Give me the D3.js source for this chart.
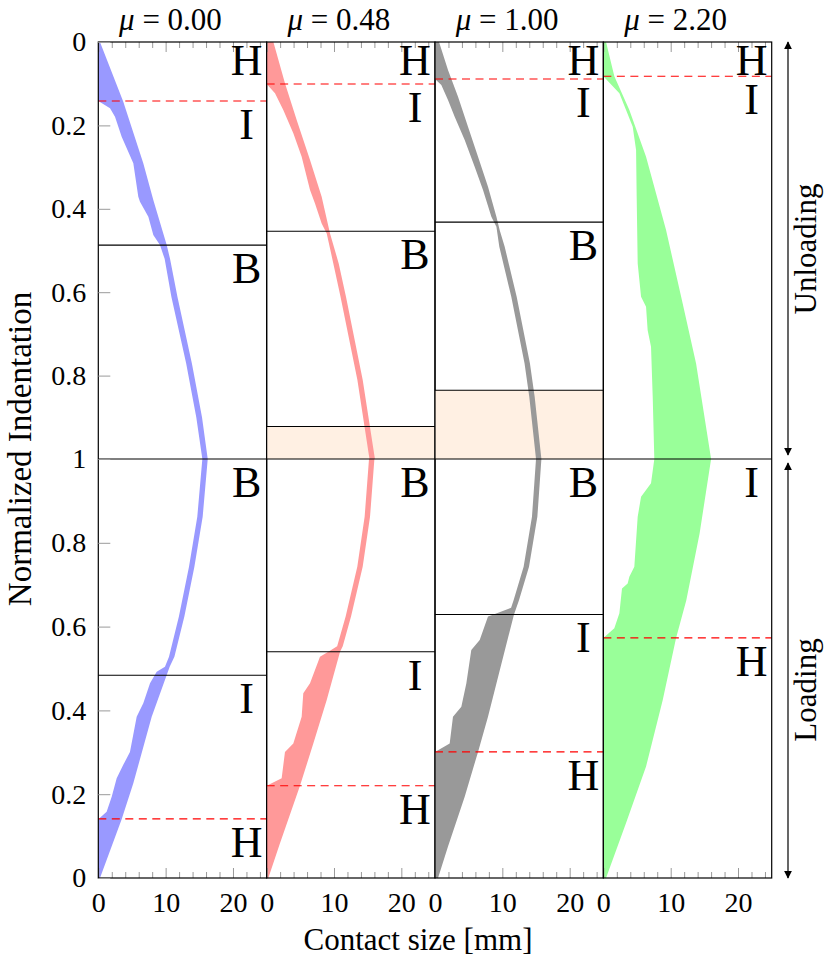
<!DOCTYPE html>
<html><head><meta charset="utf-8">
<script src="https://cdn.jsdelivr.net/npm/d3@7/dist/d3.min.js"></script>
<style>
body{margin:0;background:#fff}
svg{display:block}
</style>
</head><body>
<svg id="chart" width="831" height="969"></svg>
<script>
// ---------------- DATA ----------------
const muLabels = ["0.00", "0.48", "1.00", "2.20"];
const xMajorTicks = [0, 10, 20];
const xMinorTicks = [2, 4, 6, 8, 12, 14, 16, 18, 22, 24];
const yTickValues = [0, 0.2, 0.4, 0.6, 0.8, 1];
const yTickLabels = ["0", "0.2", "0.4", "0.6", "0.8", "1"];
const bandColors = ["#9999ff", "#ff9999", "#999999", "#99ff99"];

// region boundaries (normalized indentation)
const hUnload = [0.1415, 0.1007, 0.0887, 0.0823];   // dashed red, unloading
const bUnload = [0.487, 0.454, 0.432, null];        // solid black, unloading
const orangeStart = [null, 0.922, 0.835, null];     // shaded region, unloading
const hLoad = [0.141, 0.220, 0.301, 0.573];         // dashed red, loading
const iLoad = [0.484, 0.540, 0.629, null];          // solid black, loading
const unloadLabels = [["H", "I", "B"], ["H", "I", "B"], ["H", "I", "B"], ["H", "I"]];
const loadLabels = [["B", "I", "H"], ["B", "I", "H"], ["B", "I", "H"], ["I", "H"]];

// contact size band edges: [indentation, contact size mm]
const blueUnloadLeft = [[0,0],[0.1415,0],[0.159,1.74],[0.179,2.48],[0.227,3.47],[0.291,5.2],[0.371,5.94],[0.383,6.19],[0.419,7.43],[0.463,8.17],[0.487,9.16],[0.52,9.85],[0.611,10.85],[0.771,13.05],[0.9,14.55],[1,15.45]];
const blueUnloadRight = [[0,0.25],[0.143,3.71],[0.291,6.68],[0.379,8.17],[0.487,10.16],[0.52,10.65],[0.611,11.75],[0.771,13.9],[0.9,15.4],[1,16.25]];
const blueLoadLeft = [[0,0],[0.14,0],[0.158,1.24],[0.194,1.99],[0.238,2.73],[0.27,3.71],[0.301,4.7],[0.385,5.7],[0.417,6.68],[0.465,7.68],[0.492,8.67],[0.504,9.9],[0.528,10.5],[0.624,11.97],[0.743,13.47],[0.862,14.7],[1,15.45]];
const blueLoadRight = [[0,0.25],[0.14,3.47],[0.226,5.2],[0.385,7.93],[0.504,10.6],[0.528,11.3],[0.624,12.78],[0.743,14.27],[0.862,15.5],[1,16.25]];

const redUnloadLeft = [[0,0],[0.1007,0],[0.123,1.24],[0.163,2.47],[0.219,3.96],[0.275,5.2],[0.355,6.44],[0.387,7.18],[0.435,8.17],[0.459,8.92],[0.531,9.9],[0.611,10.97],[0.81,13.47],[1,15.27]];
const redUnloadRight = [[0,1.0],[0.099,2.72],[0.187,4.46],[0.283,6.44],[0.371,8.17],[0.459,9.41],[0.531,10.7],[0.611,11.78],[0.81,14.26],[1,16.08]];
const redLoadLeft = [[0,0],[0.22,0],[0.238,2.23],[0.301,2.72],[0.321,3.96],[0.385,5.2],[0.441,5.44],[0.465,6.44],[0.528,7.92],[0.54,9.16],[0.553,10.47],[0.624,11.73],[0.743,13.46],[0.862,14.55],[1,15.2]];
const redLoadRight = [[0,0.25],[0.083,1.98],[0.22,4.95],[0.321,6.93],[0.425,8.92],[0.54,10.9],[0.553,11.3],[0.624,12.53],[0.743,14.26],[0.862,15.35],[1,16.0]];

const grayUnloadLeft = [[0,0],[0.0887,0],[0.103,0.94],[0.139,1.93],[0.179,2.92],[0.235,4.41],[0.299,5.89],[0.355,7.13],[0.419,8.37],[0.443,9.12],[0.491,9.55],[0.611,11.33],[0.771,13.3],[0.851,14.0],[1,15.0]];
const grayUnloadRight = [[0,0.6],[0.067,1.93],[0.131,3.42],[0.203,4.9],[0.275,6.39],[0.347,7.87],[0.419,9.12],[0.451,9.6],[0.491,10.35],[0.611,12.13],[0.771,14.1],[0.851,14.8],[1,15.8]];
const grayLoadLeft = [[0,0],[0.301,0],[0.321,2.18],[0.385,2.67],[0.409,3.91],[0.464,4.65],[0.544,5.39],[0.568,6.64],[0.624,7.87],[0.629,8.7],[0.645,11.3],[0.663,11.67],[0.743,13.16],[0.862,14.4],[1,15.0]];
const grayLoadRight = [[0,0.45],[0.075,1.93],[0.194,4.41],[0.301,6.39],[0.385,7.87],[0.504,9.75],[0.629,11.73],[0.663,12.47],[0.743,13.96],[0.862,15.2],[1,15.8]];

const greenUnloadLeft = [[0,0],[0.0823,0],[0.123,2.38],[0.163,3.37],[0.203,4.36],[0.259,4.86],[0.371,4.95],[0.531,5.1],[0.611,5.6],[0.635,6.34],[0.691,6.58],[0.731,7.08],[0.851,7.33],[1,7.57]];
const greenUnloadRight = [[0,0.4],[0.082,1.63],[0.163,3.86],[0.275,6.34],[0.451,9.31],[0.627,11.78],[0.771,13.77],[1,16.0]];
const greenLoadLeft = [[0,0],[0.573,0],[0.596,1.63],[0.632,2.38],[0.691,2.77],[0.703,3.61],[0.719,3.86],[0.743,4.6],[0.862,5.1],[0.91,5.6],[0.942,7.08],[1,7.57]];
const greenLoadRight = [[0,0.4],[0.131,3.37],[0.266,6.34],[0.425,8.82],[0.573,10.8],[0.663,12.32],[0.823,14.3],[1,16.0]];

const unloadLeftEdges = [blueUnloadLeft, redUnloadLeft, grayUnloadLeft, greenUnloadLeft];
const unloadRightEdges = [blueUnloadRight, redUnloadRight, grayUnloadRight, greenUnloadRight];
const loadLeftEdges = [blueLoadLeft, redLoadLeft, grayLoadLeft, greenLoadLeft];
const loadRightEdges = [blueLoadRight, redLoadRight, grayLoadRight, greenLoadRight];

// ---------------- LAYOUT ----------------
const x0 = 98.3, pw = 168.35, yTop = 42, yMid = 459, yBot = 878;
const svg = d3.select("#chart");
const FONT = '"Liberation Serif", "Times New Roman", "DejaVu Serif", serif';

const yU = d3.scaleLinear().domain([0, 1]).range([yTop, yMid]);
const yL = d3.scaleLinear().domain([0, 1]).range([yBot, yMid]);

const line = d3.line();
const txt = (sel) => sel.append("text").style("font-family", FONT).attr("fill", "#000");

muLabels.forEach((mu, i) => {
  const left = x0 + i * pw, right = left + pw;
  const x = d3.scaleLinear().domain([0, 25]).range([left, right]);
  const g = svg.append("g");

  if (orangeStart[i] != null) {
    g.append("rect").attr("x", left).attr("width", pw)
      .attr("y", yU(orangeStart[i])).attr("height", yU(1) - yU(orangeStart[i]))
      .attr("fill", "#fff0e3");
  }

  const poly = (L, R, ys) => line(
    L.map(d => [x(d[1]), ys(d[0])]).concat(R.slice().reverse().map(d => [x(d[1]), ys(d[0])]))
  ) + "Z";
  g.append("path").attr("d", poly(unloadLeftEdges[i], unloadRightEdges[i], yU)).attr("fill", bandColors[i]);
  g.append("path").attr("d", poly(loadLeftEdges[i], loadRightEdges[i], yL)).attr("fill", bandColors[i]);

  const hline = (yy, dashed) => {
    const l = g.append("line").attr("x1", left).attr("x2", right).attr("y1", yy).attr("y2", yy);
    if (dashed) l.attr("stroke", "#ff0000").attr("stroke-width", 1.1).attr("stroke-dasharray", "8,5.5");
    else l.attr("stroke", "#000").attr("stroke-width", 1.1);
  };
  if (orangeStart[i] != null) hline(yU(orangeStart[i]), false);
  if (bUnload[i] != null) hline(yU(bUnload[i]), false);
  if (iLoad[i] != null) hline(yL(iLoad[i]), false);
  hline(yU(hUnload[i]), true);
  hline(yL(hLoad[i]), true);
  hline(yMid, false);

  const styleAxis = (a) => {
    a.select(".domain").remove();
    a.selectAll(".tick line").attr("stroke", "#9a9a9a").attr("stroke-width", 1);
    a.selectAll(".tick text").style("font-family", FONT).attr("font-size", 28).attr("fill", "#000");
  };
  const bMaj = g.append("g").attr("transform", `translate(0,${yBot})`)
    .call(d3.axisBottom(x).tickValues(xMajorTicks).tickSize(-10).tickPadding(14).tickFormat(d3.format("d")));
  styleAxis(bMaj);
  const bMin = g.append("g").attr("transform", `translate(0,${yBot})`)
    .call(d3.axisBottom(x).tickValues(xMinorTicks).tickSize(-6).tickFormat(""));
  styleAxis(bMin);
  const tMaj = g.append("g").attr("transform", `translate(0,${yTop})`)
    .call(d3.axisTop(x).tickValues(xMajorTicks).tickSize(-10).tickFormat(""));
  styleAxis(tMaj);
  const tMin = g.append("g").attr("transform", `translate(0,${yTop})`)
    .call(d3.axisTop(x).tickValues(xMinorTicks).tickSize(-6).tickFormat(""));
  styleAxis(tMin);

  g.append("rect").attr("x", left).attr("y", yTop).attr("width", pw).attr("height", yBot - yTop)
    .attr("fill", "none").attr("stroke", "#000").attr("stroke-width", 1.2);

  const t = txt(g).attr("x", (left + right) / 2 - 12).attr("y", 30)
    .attr("text-anchor", "middle").attr("font-size", 31);
  t.append("tspan").attr("font-style", "italic").text("μ");
  t.append("tspan").text(" = " + mu);

  const labX = right - 20;
  const uTops = [0, hUnload[i], bUnload[i]].filter(v => v != null).map(v => yU(v));
  unloadLabels[i].forEach((lab, k) => {
    txt(g).attr("x", labX).attr("y", uTops[k] + (k === 0 ? 33 : 38)).attr("text-anchor", "middle")
      .attr("font-size", 44).text(lab);
  });
  const lTops = [1, iLoad[i], hLoad[i]].filter(v => v != null).map(v => yL(v));
  loadLabels[i].forEach((lab, k) => {
    txt(g).attr("x", labX).attr("y", lTops[k] + 38).attr("text-anchor", "middle")
      .attr("font-size", 44).text(lab);
  });
});

// y axis (first panel)
const fmtY = v => yTickLabels[yTickValues.indexOf(v)];
const yAxU = svg.append("g").attr("transform", `translate(${x0},0)`)
  .call(d3.axisLeft(yU).tickValues(yTickValues).tickSize(-12).tickPadding(12).tickFormat(fmtY));
const yAxL = svg.append("g").attr("transform", `translate(${x0},0)`)
  .call(d3.axisLeft(yL).tickValues(yTickValues.slice(0, 5)).tickSize(-12).tickPadding(12).tickFormat(fmtY));
[yAxU, yAxL].forEach(a => {
  a.select(".domain").remove();
  a.selectAll(".tick line").attr("stroke", "#9a9a9a");
  a.selectAll(".tick text").style("font-family", FONT).attr("font-size", 28).attr("fill", "#000");
});

// axis titles
txt(svg).attr("x", 418).attr("y", 950).attr("text-anchor", "middle")
  .attr("font-size", 31).text("Contact size [mm]");
txt(svg).attr("transform", `translate(31,${yMid - 10}) rotate(-90)`).attr("text-anchor", "middle")
  .attr("font-size", 33).text("Normalized Indentation");

// right side arrows
const defs = svg.append("defs");
defs.append("marker").attr("id", "ah").attr("viewBox", "0 0 10 10").attr("refX", 9).attr("refY", 5)
  .attr("markerWidth", 8).attr("markerHeight", 8).attr("markerUnits", "userSpaceOnUse").attr("orient", "auto-start-reverse")
  .append("path").attr("d", "M0,0 L10,5 L0,10 Z").attr("fill", "#000");
const ax = 788;
svg.append("line").attr("x1", ax).attr("x2", ax).attr("y1", yTop).attr("y2", yMid - 4)
  .attr("stroke", "#000").attr("stroke-width", 1.2)
  .attr("marker-start", "url(#ah)").attr("marker-end", "url(#ah)");
svg.append("line").attr("x1", ax).attr("x2", ax).attr("y1", yMid + 4).attr("y2", yBot)
  .attr("stroke", "#000").attr("stroke-width", 1.2)
  .attr("marker-start", "url(#ah)").attr("marker-end", "url(#ah)");
txt(svg).attr("transform", `translate(816,249) rotate(-90)`).attr("text-anchor", "middle")
  .attr("font-size", 31).text("Unloading");
txt(svg).attr("transform", `translate(816,690) rotate(-90)`).attr("text-anchor", "middle")
  .attr("font-size", 31).text("Loading");
</script>
</body></html>
